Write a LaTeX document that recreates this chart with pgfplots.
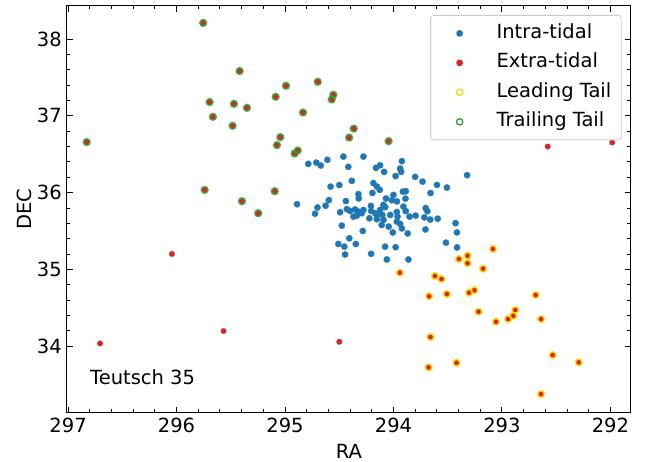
\documentclass[border=0pt]{standalone}
\usepackage{fontspec}
\setmainfont{DejaVu Sans}
\usepackage{pgfplots}
\usepackage{pgfplotstable}
\pgfplotsset{compat=1.18}
\definecolor{tabblue}{HTML}{1F77B4}
\definecolor{tabred}{HTML}{D62728}
\definecolor{tabgreen}{HTML}{2CA02C}
\definecolor{tabgold}{HTML}{FFD700}
\newcommand\fs{\fontsize{19.5}{23}\selectfont}

\pgfplotstableread{
x y
294.785 36.374
294.711 36.391
294.670 36.352
294.609 36.426
294.462 36.469
294.277 36.469
294.416 36.335
294.162 36.322
294.123 36.355
294.086 36.270
293.922 36.409
293.938 36.313
293.929 36.270
293.980 36.215
293.800 36.205
293.732 36.143
293.599 36.100
293.507 36.065
293.321 36.227
294.580 36.078
294.499 36.098
294.384 36.153
294.185 36.124
294.152 36.078
294.126 36.035
294.194 35.996
294.323 35.980
294.320 35.924
294.069 35.923
294.000 35.970
293.913 36.012
293.887 36.018
293.889 35.922
293.658 35.994
294.596 35.902
294.700 35.806
294.626 35.829
294.723 35.725
294.439 35.890
294.492 35.744
294.430 35.784
294.400 35.761
294.354 35.780
294.369 35.687
294.292 35.731
294.277 35.774
294.208 35.827
294.206 35.761
294.169 35.731
294.123 35.774
294.076 35.810
294.102 35.709
294.015 35.901
293.968 35.885
293.908 35.818
293.887 35.759
293.852 35.687
293.796 35.700
293.703 35.798
293.687 35.758
293.715 35.677
293.661 35.649
293.592 35.660
294.030 35.709
293.963 35.687
294.222 35.666
294.153 35.653
294.092 35.644
294.109 35.579
294.044 35.557
293.938 35.592
293.922 35.533
294.476 35.570
294.283 35.501
294.006 35.481
293.869 35.468
293.705 35.520
293.428 35.602
293.415 35.481
294.407 35.405
294.508 35.331
294.453 35.296
294.347 35.331
294.446 35.194
294.206 35.203
294.077 35.296
293.980 35.289
294.061 35.129
293.862 35.129
293.516 35.348
293.414 35.286
294.889 35.849
294.323 35.752
294.338 35.700
294.153 35.709
294.092 35.840
293.969 35.748
293.969 35.622
}\intra

\pgfplotstableread{
x y
292.578 36.600
291.983 36.652
296.043 35.201
296.705 34.036
295.566 34.197
294.499 34.057
}\extra

\pgfplotstableread{
x y
293.082 35.266
293.317 35.179
293.396 35.136
293.317 35.080
293.174 35.009
293.941 34.957
293.618 34.914
293.557 34.875
293.671 34.649
293.508 34.679
293.303 34.696
293.254 34.728
292.689 34.666
293.216 34.449
293.054 34.318
292.943 34.353
292.895 34.396
292.877 34.470
292.639 34.353
293.659 34.119
292.532 33.884
293.676 33.724
293.418 33.784
292.292 33.789
292.639 33.376
}\leading

\pgfplotstableread{
x y
295.754 38.210
295.418 37.583
294.991 37.391
294.698 37.443
295.086 37.248
294.554 37.274
294.569 37.213
295.695 37.179
295.471 37.156
295.351 37.104
295.665 36.987
294.834 37.043
295.483 36.870
294.366 36.834
294.409 36.717
295.043 36.722
295.074 36.618
294.883 36.548
294.911 36.509
296.828 36.657
295.741 36.035
295.095 36.018
295.397 35.888
295.247 35.731
294.045 36.670
}\trailing

\begin{document}
\begin{tikzpicture}
\begin{axis}[
  scale only axis, width=564pt, height=407pt,
  x dir=reverse,
  xmin=291.81, xmax=297.01, ymin=33.13, ymax=38.43,
  xtick={292,293,294,295,296,297}, ytick={34,35,36,37,38},
  minor tick num=4,
  tick align=inside,
  xtick pos=both, ytick pos=both,
  xticklabel pos=left, yticklabel pos=left,
  major tick length=6pt, minor tick length=3.5pt,
  every tick/.style={black, line width=0.9pt},
  axis line style={black, line width=1pt},
  /pgf/number format/assume math mode=true,
  tick label style={font=\fs, inner sep=0pt},
  xticklabel shift=5pt, yticklabel shift=5pt,
  xlabel={RA}, ylabel={DEC},
  label style={font=\fs},
  xlabel style={at={(axis description cs:0.5,-0.1106)}, anchor=base},
  ylabel style={at={(axis description cs:-0.0638,0.5)}, anchor=base},
  legend cell align=left,
  legend style={at={(axis description cs:0.9835,0.978)}, anchor=north east,
    draw=black!20, line width=0.8pt, rounded corners=3pt, font=\fs,
    inner xsep=8pt, inner ysep=9pt, row sep=11.5pt,
    nodes={text height=14pt, text depth=4pt, inner ysep=0pt}},
]
\addplot[only marks, mark=*, mark size=3.15pt, mark options={draw=tabblue, line width=0.3pt, fill=tabblue},
  legend image code/.code={\path[draw=none] (0pt,0pt) -- (56pt,0pt); \fill[tabblue, draw=none] (21pt,0pt) circle (3.4pt);}]
  table {\intra};
\addlegendentry{Intra-tidal}
\addplot[only marks, mark=*, mark size=2.75pt, mark options={draw=tabred, line width=0.3pt, fill=tabred},
  legend image code/.code={\path[draw=none] (0pt,0pt) -- (56pt,0pt); \fill[tabred, draw=none] (21pt,0pt) circle (3.4pt);}]
  table {\extra};
\addlegendentry{Extra-tidal}
\addplot[forget plot, only marks, mark=*, mark size=2.75pt, mark options={draw=tabred, line width=0.3pt, fill=tabred}] table {\leading};
\addplot[forget plot, only marks, mark=*, mark size=2.75pt, mark options={draw=tabred, line width=0.3pt, fill=tabred}] table {\trailing};
\addplot[only marks, mark=o, mark size=3.3pt, mark options={draw=tabgold, fill=none, line width=1.6pt, draw opacity=0.85},
  legend image code/.code={\path[draw=none] (0pt,0pt) -- (56pt,0pt); \draw[tabgold, fill=none, line width=1.3pt] (21pt,0pt) circle (3.2pt);}]
  table {\leading};
\addlegendentry{Leading Tail}
\addplot[only marks, mark=o, mark size=3.3pt, mark options={draw=tabgreen, fill=none, line width=1.6pt, draw opacity=0.85},
  legend image code/.code={\path[draw=none] (0pt,0pt) -- (56pt,0pt); \draw[tabgreen, fill=none, line width=1.3pt] (21pt,0pt) circle (3.2pt);}]
  table {\trailing};
\addlegendentry{Trailing Tail}
\node[anchor=base west, inner sep=0pt, font=\fs] at (axis description cs:0.0408,0.0705) {Teutsch 35};
\end{axis}
\pgfresetboundingbox
\path (-67pt,-49pt) rectangle (586pt,413pt);
\end{tikzpicture}
\end{document}
